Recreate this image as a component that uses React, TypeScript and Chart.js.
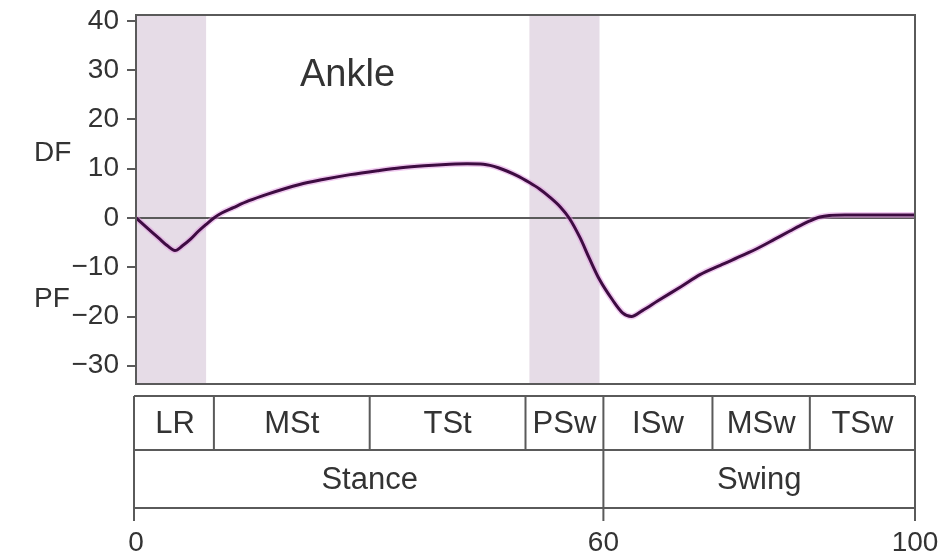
import React, { useEffect, useRef } from "react";
import { Chart, registerables } from "chart.js";

Chart.register(...registerables);

// Gait cycle (%) and ankle angle (degrees, + = dorsiflexion)
const gaitPct = [0, 1, 2, 3, 4, 5, 6, 7, 8, 9, 10, 11, 12.5, 14.5, 16.8, 21, 24, 27.5, 31, 34, 37, 40.3, 42.5, 44.6, 46.5, 48.9, 50.5, 51.8, 53, 54.5, 55.6, 57, 58.2, 59.5, 61.2, 62.5, 63.6, 65, 67, 70, 72.4, 75, 78, 80, 82, 84, 85.2, 86.5, 87.8, 89, 91, 100];
const ankleAngle = [0, -1.4, -2.8, -4.2, -5.6, -6.6, -5.6, -4.3, -2.7, -1.3, 0, 1.0, 2.1, 3.5, 4.8, 6.8, 7.8, 8.8, 9.6, 10.2, 10.6, 10.9, 11.0, 10.9, 10.2, 8.6, 7.2, 5.9, 4.4, 2.2, 0, -4.0, -8.2, -12.5, -16.7, -19.3, -20, -18.8, -16.8, -13.9, -11.5, -9.6, -7.5, -6.0, -4.3, -2.6, -1.6, -0.6, 0.2, 0.5, 0.6, 0.6];

const yTicks = [-30, -20, -10, 0, 10, 20, 30, 40];
const xTicks = [0, 60, 100];
const shadedRanges = [[0, 9], [50.5, 59.5]];

const phaseBounds = [0, 10, 30, 50, 60, 74, 86.5, 100];
const phaseLabels = ["LR", "MSt", "TSt", "PSw", "ISw", "MSw", "TSw"];
const periodBounds = [0, 60, 100];
const periodLabels = ["Stance", "Swing"];

const title = "Ankle";
const dfLabel = "DF";
const pfLabel = "PF";

const FONT = "'Liberation Sans', Arial, sans-serif";
const TEXT = "#333333";
const LINE = "#5a5a5a";

export default function App() {
  const ref = useRef<HTMLCanvasElement | null>(null);

  useEffect(() => {
    if (!ref.current) return;
    const decor = {
      id: "decor",
      beforeDatasetsDraw(chart: any) {
        const { ctx, chartArea: a, scales } = chart;
        const x = scales.x, y = scales.y;
        ctx.save();
        ctx.fillStyle = "#e6dce7";
        shadedRanges.forEach(([s, e]) => {
          const x0 = x.getPixelForValue(s), x1 = x.getPixelForValue(e);
          ctx.fillRect(x0, a.top, x1 - x0, a.bottom - a.top);
        });
        const z = y.getPixelForValue(0);
        ctx.strokeStyle = LINE;
        ctx.lineWidth = 2;
        ctx.beginPath();
        ctx.moveTo(a.left, z);
        ctx.lineTo(a.right, z);
        ctx.stroke();
        ctx.restore();
      },
      afterDraw(chart: any) {
        const { ctx, chartArea: a, scales } = chart;
        const x = scales.x;
        ctx.save();
        // plot frame
        ctx.strokeStyle = LINE;
        ctx.lineWidth = 2;
        ctx.strokeRect(a.left, a.top, a.right - a.left, a.bottom - a.top);

        // texts
        ctx.fillStyle = TEXT;
        ctx.textBaseline = "middle";
        ctx.textAlign = "left";
        ctx.font = `38px ${FONT}`;
        ctx.fillText(title, 300, 76);
        ctx.font = `28px ${FONT}`;
        ctx.fillText(dfLabel, 34, 153);
        ctx.fillText(pfLabel, 34, 299);

        // phase table
        const t0 = a.bottom + 12, t1 = t0 + 54, t2 = t1 + 58, tick = t2 + 13;
        const L = x.getPixelForValue(0) - 2, R = x.getPixelForValue(100);
        ctx.beginPath();
        ctx.moveTo(L, t0); ctx.lineTo(R, t0);
        ctx.moveTo(L, t1); ctx.lineTo(R, t1);
        ctx.moveTo(L, t2); ctx.lineTo(R, t2);
        phaseBounds.forEach((b) => {
          const px = b === 0 ? L : x.getPixelForValue(b);
          ctx.moveTo(px, t0); ctx.lineTo(px, t1);
        });
        periodBounds.forEach((b) => {
          const px = b === 0 ? L : x.getPixelForValue(b);
          ctx.moveTo(px, t1); ctx.lineTo(px, tick);
        });
        ctx.stroke();
        ctx.textAlign = "center";
        ctx.font = `31px ${FONT}`;
        phaseLabels.forEach((lab, i) => {
          const cx = (x.getPixelForValue(phaseBounds[i]) + x.getPixelForValue(phaseBounds[i + 1])) / 2;
          ctx.fillText(lab, cx, (t0 + t1) / 2 + 1);
        });
        periodLabels.forEach((lab, i) => {
          const cx = (x.getPixelForValue(periodBounds[i]) + x.getPixelForValue(periodBounds[i + 1])) / 2;
          ctx.fillText(lab, cx, (t1 + t2) / 2 + 1);
        });
        ctx.restore();
      },
    };

    const chart = new Chart(ref.current, {
      type: "line",
      data: {
        datasets: [
          {
            data: gaitPct.map((v, i) => ({ x: v, y: ankleAngle[i] })),
            borderColor: "#3e0c42",
            borderWidth: 3,
            pointRadius: 0,
            cubicInterpolationMode: "monotone",
            order: 0,
          },
          {
            data: gaitPct.map((v, i) => ({ x: v, y: ankleAngle[i] })),
            borderColor: "rgba(226,150,226,0.5)",
            borderWidth: 6,
            pointRadius: 0,
            cubicInterpolationMode: "monotone",
            order: 1,
          },
        ],
      },
      options: {
        responsive: false,
        animation: false,
        layout: { padding: { top: 15, right: 30, left: 0, bottom: 0 } },
        plugins: { legend: { display: false }, tooltip: { enabled: false } },
        scales: {
          x: {
            type: "linear",
            min: 0,
            max: 100,
            afterBuildTicks: (s: any) => { s.ticks = xTicks.map((v) => ({ value: v })); },
            afterFit: (s: any) => {
              s.height = 557 - 384;
              s.paddingLeft = 0;
              s.paddingRight = 0;
            },
            grid: { display: false, drawTicks: true, tickLength: 140 },
            border: { display: false },
            ticks: {
              padding: 2,
              color: TEXT,
              font: { family: FONT, size: 28 },
              maxRotation: 0,
            },
          },
          y: {
            min: -33.7,
            max: 41.2,
            afterBuildTicks: (s: any) => { s.ticks = yTicks.map((v) => ({ value: v })); },
            afterFit: (s: any) => {
              s.width = 136;
              s.paddingTop = 0;
              s.paddingBottom = 0;
            },
            grid: { drawOnChartArea: false, drawTicks: true, tickLength: 9, color: LINE, lineWidth: 2 },
            border: { display: false },
            ticks: {
              padding: 8,
              color: TEXT,
              font: { family: FONT, size: 28 },
              callback: (v: any) => (v < 0 ? "\u2212" + Math.abs(v) : String(v)),
            },
          },
        },
      },
      plugins: [decor],
    });
    return () => chart.destroy();
  }, []);

  return (
    <div style={{ position: "fixed", left: 0, top: 0, width: 945, height: 557, background: "#fff" }}>
      <canvas ref={ref} width={945} height={557} />
    </div>
  );
}
